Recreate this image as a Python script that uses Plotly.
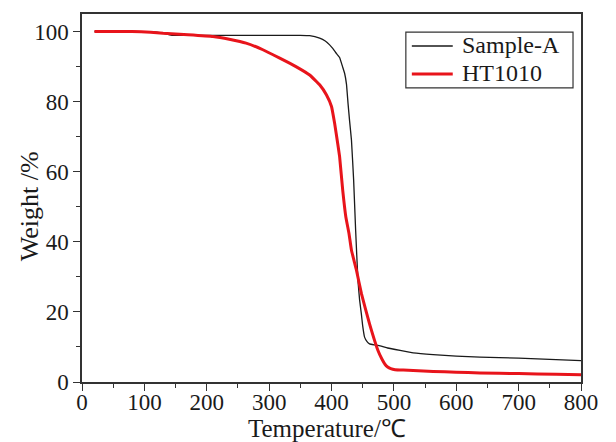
import plotly.graph_objects as go

temp_a = [20, 80, 120, 135, 145, 170, 250, 300, 350, 365, 381, 390, 397, 402, 408, 413, 418, 421, 424, 426.5, 429, 432, 435.5, 438.7, 442.4, 445, 447.8, 450, 453, 457, 461, 469, 478, 490, 510, 531, 563, 600, 638, 700, 760, 800]
weight_a = [100, 100, 99.8, 99.3, 98.9, 98.9, 98.9, 98.9, 98.9, 98.8, 98.1, 97.3, 96.2, 95.2, 93.7, 92.6, 89.8, 88.1, 85, 79.5, 74.5, 69, 57.6, 43.3, 29, 23.5, 19.5, 16, 12.8, 11.5, 10.9, 10.6, 10.3, 9.7, 9.0, 8.3, 7.8, 7.4, 7.1, 6.8, 6.4, 6.1]

temp_h = [20, 80, 110, 130, 170, 210, 236, 263, 290, 317, 343, 365, 381, 392, 400, 405, 410, 413, 418, 423, 428, 432, 440, 448, 461, 474.5, 481, 486, 490, 495, 502, 515, 531, 563, 600, 638, 700, 760, 800]
weight_h = [100, 100, 99.8, 99.5, 99.1, 98.6, 97.8, 96.7, 94.8, 92.4, 90, 87.6, 84.8, 81.9, 78.6, 73.8, 68, 64.3, 54.7, 47.1, 42.4, 37.6, 31.9, 25.2, 16.6, 9, 6.5, 5, 4.3, 3.8, 3.5, 3.4, 3.3, 3.0, 2.8, 2.6, 2.4, 2.2, 2.1]

series_names = ["Sample-A", "HT1010"]
series_colors = ["#1a1a1a", "#e8141b"]
series_widths = [1.3, 3]

x_title = "Temperature/℃"
y_title = "Weight /%"

font = "Liberation Serif, Times New Roman, serif"
ink = "#1a1a1a"

fig = go.Figure()
for name, xs, ys, col, w in zip(series_names, [temp_a, temp_h], [weight_a, weight_h], series_colors, series_widths):
    fig.add_trace(go.Scatter(x=xs, y=ys, mode="lines", name=name, showlegend=False,
                             line=dict(color=col, width=w, shape="spline", smoothing=0.3)))

axis_common = dict(showline=True, linecolor="#333333", linewidth=1.5, mirror=True,
                   ticks="outside", ticklen=7, tickwidth=1.2, tickcolor="#333333",
                   showgrid=False, zeroline=False, automargin=False,
                   tickfont=dict(family=font, size=23, color=ink),
                   minor=dict(ticks="outside", ticklen=4, tickwidth=1.2, tickcolor="#333333"))

fig.update_xaxes(range=[0, 800], dtick=100, minor_dtick=50, ticklabelstandoff=-8, **axis_common)
fig.update_yaxes(range=[0, 105], dtick=20, minor_dtick=10, **axis_common)

# axis titles
fig.add_annotation(text=x_title, xref="paper", yref="paper", x=0.49, y=-0.127,
                   xanchor="center", yanchor="middle", showarrow=False,
                   font=dict(family=font, size=25, color=ink))
fig.add_annotation(text=y_title, xref="paper", yref="paper", x=-0.106, y=0.478,
                   xanchor="center", yanchor="middle", showarrow=False, textangle=-90,
                   font=dict(family=font, size=26, color=ink))

# legend box
fig.add_shape(type="rect", xref="paper", yref="paper", x0=0.649, x1=0.984, y0=0.799, y1=0.951,
              line=dict(color="#333333", width=1.2), fillcolor="white", layer="above")
legend_y = [0.913, 0.837]
for name, col, w, ly in zip(series_names, series_colors, series_widths, legend_y):
    fig.add_shape(type="line", xref="paper", yref="paper", x0=0.661, x1=0.743, y0=ly, y1=ly,
                  line=dict(color=col, width=w), layer="above")
    fig.add_annotation(text=name, xref="paper", yref="paper", x=0.7575, y=ly + 0.004,
                       xanchor="left", yanchor="middle", showarrow=False,
                       font=dict(family=font, size=24, color=ink))

fig.update_layout(
    width=616, height=442,
    margin=dict(l=74, r=43, t=6, b=68),
    plot_bgcolor="white", paper_bgcolor="white",
    showlegend=False,
)

fig.write_html("out.html")
